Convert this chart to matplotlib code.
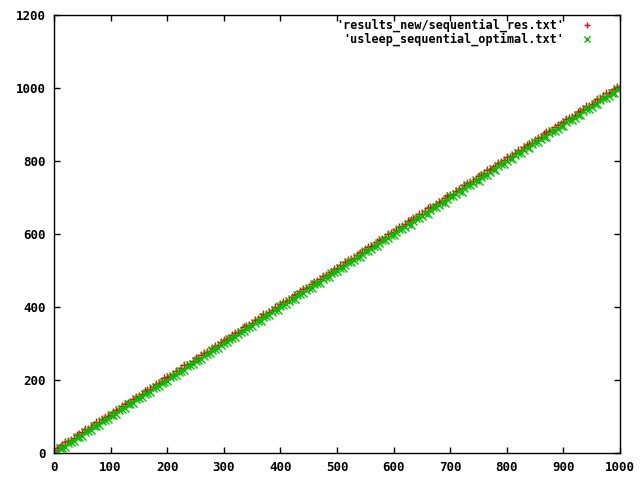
import matplotlib
matplotlib.use('Agg')
import matplotlib.pyplot as plt

# x positions of the measurements
x_vals = [0, 5, 10, 15, 20, 25, 30, 35, 40, 45, 50, 55, 60, 65, 70, 75, 80, 85, 90, 95,
          100, 105, 110, 115, 120, 125, 130, 135, 140, 145, 150, 155, 160, 165, 170, 175, 180, 185, 190, 195,
          200, 205, 210, 215, 220, 225, 230, 235, 240, 245, 250, 255, 260, 265, 270, 275, 280, 285, 290, 295,
          300, 305, 310, 315, 320, 325, 330, 335, 340, 345, 350, 355, 360, 365, 370, 375, 380, 385, 390, 395,
          400, 405, 410, 415, 420, 425, 430, 435, 440, 445, 450, 455, 460, 465, 470, 475, 480, 485, 490, 495,
          500, 505, 510, 515, 520, 525, 530, 535, 540, 545, 550, 555, 560, 565, 570, 575, 580, 585, 590, 595,
          600, 605, 610, 615, 620, 625, 630, 635, 640, 645, 650, 655, 660, 665, 670, 675, 680, 685, 690, 695,
          700, 705, 710, 715, 720, 725, 730, 735, 740, 745, 750, 755, 760, 765, 770, 775, 780, 785, 790, 795,
          800, 805, 810, 815, 820, 825, 830, 835, 840, 845, 850, 855, 860, 865, 870, 875, 880, 885, 890, 895,
          900, 905, 910, 915, 920, 925, 930, 935, 940, 945, 950, 955, 960, 965, 970, 975, 980, 985, 990, 995,
          1000]

# 'results_new/sequential_res.txt'
seq_res = [7, 14, 16, 23, 30, 32, 35, 42, 49, 51, 58, 65, 67, 70, 77, 84, 86, 93, 100, 102,
           105, 112, 119, 121, 128, 135, 137, 140, 147, 154, 156, 163, 170, 172, 175, 182, 189, 191, 198, 205,
           207, 210, 217, 224, 226, 233, 240, 242, 245, 252, 259, 261, 268, 275, 277, 280, 287, 294, 296, 303,
           310, 312, 315, 322, 329, 331, 338, 345, 347, 350, 357, 364, 366, 373, 380, 382, 385, 392, 399, 401,
           408, 415, 417, 420, 427, 434, 436, 443, 450, 452, 455, 462, 469, 471, 478, 485, 487, 490, 497, 504,
           507, 514, 516, 523, 530, 532, 535, 542, 549, 551, 558, 565, 567, 570, 577, 584, 586, 593, 600, 602,
           605, 612, 619, 621, 628, 635, 637, 640, 647, 654, 656, 663, 670, 672, 675, 682, 689, 691, 698, 705,
           707, 710, 717, 724, 726, 733, 740, 742, 745, 752, 759, 761, 768, 775, 777, 780, 787, 794, 796, 803,
           810, 812, 815, 822, 829, 831, 838, 845, 847, 850, 857, 864, 866, 873, 880, 882, 885, 892, 899, 901,
           908, 915, 917, 920, 927, 934, 936, 943, 950, 952, 955, 962, 969, 971, 978, 985, 987, 990, 997, 1004,
           1006]

# 'usleep_sequential_optimal.txt'
usleep_opt = [1, 3, 13, 15, 17, 27, 31, 33, 43, 45, 47, 57, 61, 63, 73, 75, 77, 87, 91, 93,
              103, 105, 107, 117, 121, 123, 133, 135, 137, 147, 151, 153, 163, 165, 167, 177, 181, 183, 193, 195,
              197, 207, 211, 213, 223, 225, 227, 237, 241, 243, 253, 255, 257, 267, 271, 273, 283, 285, 287, 297,
              301, 303, 313, 315, 317, 327, 331, 333, 343, 345, 347, 357, 361, 363, 373, 375, 377, 387, 391, 393,
              403, 405, 407, 417, 421, 423, 433, 435, 437, 447, 451, 453, 463, 465, 467, 477, 481, 483, 493, 495,
              499, 507, 506, 516, 523, 523, 529, 537, 536, 546, 553, 553, 559, 567, 566, 576, 583, 583, 589, 597,
              596, 606, 613, 613, 619, 627, 626, 636, 643, 643, 649, 657, 656, 666, 673, 673, 679, 687, 686, 696,
              703, 703, 709, 717, 716, 726, 733, 733, 739, 747, 746, 756, 763, 763, 769, 777, 776, 786, 793, 793,
              799, 807, 806, 816, 823, 823, 829, 837, 836, 846, 853, 853, 859, 867, 866, 876, 883, 883, 889, 897,
              896, 906, 913, 913, 919, 927, 926, 936, 943, 943, 949, 957, 956, 966, 973, 973, 979, 987, 986, 996,
              999]

x_ticks = [0, 100, 200, 300, 400, 500, 600, 700, 800, 900, 1000]
y_ticks = [0, 200, 400, 600, 800, 1000, 1200]

plt.rcParams['font.family'] = ['DejaVu Sans Mono']
plt.rcParams['font.weight'] = 'bold'
plt.rcParams['font.size'] = 9


def main():
    fig = plt.figure(figsize=(6.4, 4.8), dpi=100)
    ax = fig.add_axes([54 / 640, 1 - 453 / 480, 566 / 640, 438 / 480])

    ax.plot(x_vals, seq_res, linestyle='none', marker='+', markersize=6.0,
            markeredgewidth=1.0, color='#ff0000', antialiased=False,
            label="'results_new/sequential_res.txt'")
    ax.plot(x_vals, usleep_opt, linestyle='none', marker='x', markersize=5.5,
            markeredgewidth=1.0, color='#00c000', antialiased=False,
            label="'usleep_sequential_optimal.txt'")

    ax.set_xlim(0, 1000)
    ax.set_ylim(0, 1200)
    ax.set_xticks(x_ticks)
    ax.set_yticks(y_ticks)
    ax.tick_params(direction='in', top=True, right=True, length=4,
                   width=1, pad=6, labelsize=9)
    for s in ax.spines.values():
        s.set_linewidth(1)
    for lab in ax.get_xticklabels() + ax.get_yticklabels():
        lab.set_fontweight('bold')

    leg = ax.legend(loc='upper right', bbox_to_anchor=(1 - 17 / 566, 1 + 3 / 438),
                    frameon=False, markerfirst=False,
                    handlelength=1.5, handletextpad=1.2, borderaxespad=0.2,
                    labelspacing=0.05, prop={'weight': 'bold', 'size': 8.5})
    # smaller marks in the key, as in the original
    for h in leg.legend_handles:
        h.set_markersize(5)

    fig.savefig('out.png', dpi=100)


if __name__ == '__main__':
    main()
